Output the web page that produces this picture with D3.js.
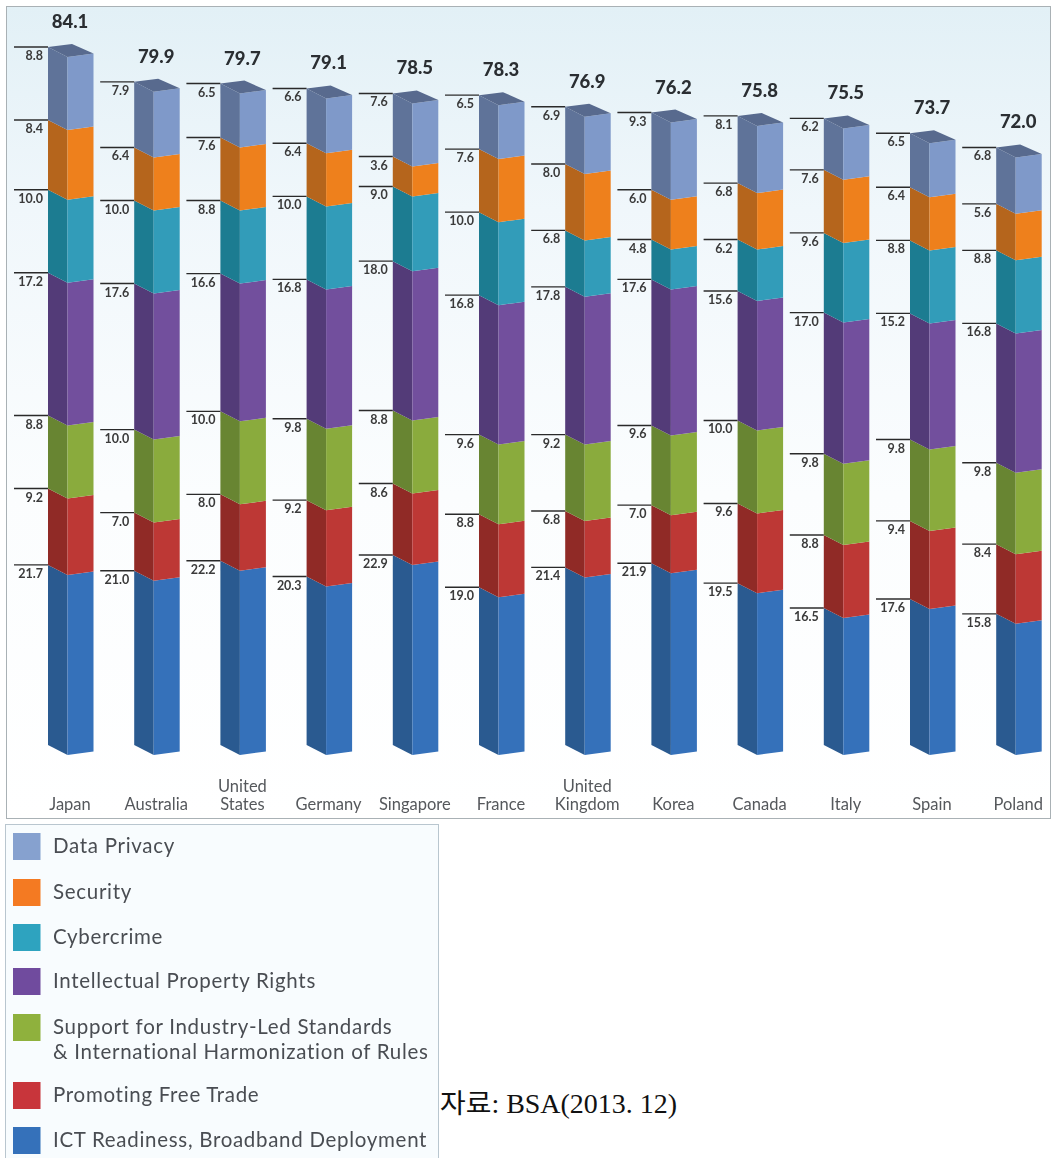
<!DOCTYPE html>
<html><head><meta charset="utf-8">
<script src="https://cdn.jsdelivr.net/npm/d3@7"></script>
<style>html,body{margin:0;padding:0;background:#fff}svg{display:block}</style>
</head><body><div id="c"></div>
<script>
const countries = ["Japan","Australia","United States","Germany","Singapore","France","United Kingdom","Korea","Canada","Italy","Spain","Poland"];
const totals = [84.1,79.9,79.7,79.1,78.5,78.3,76.9,76.2,75.8,75.5,73.7,72.0];
const seriesNames = ["ICT Readiness, Broadband Deployment","Promoting Free Trade","Support for Industry-Led Standards & International Harmonization of Rules","Intellectual Property Rights","Cybercrime","Security","Data Privacy"];
const ict = [21.7,21.0,22.2,20.3,22.9,19.0,21.4,21.9,19.5,16.5,17.6,15.8];
const trade = [9.2,7.0,8.0,9.2,8.6,8.8,6.8,7.0,9.6,8.8,9.4,8.4];
const standards = [8.8,10.0,10.0,9.8,8.8,9.6,9.2,9.6,10.0,9.8,9.8,9.8];
const ip = [17.2,17.6,16.6,16.8,18.0,16.8,17.8,17.6,15.6,17.0,15.2,16.8];
const cyber = [10.0,10.0,8.8,10.0,9.0,10.0,6.8,4.8,6.2,9.6,8.8,8.8];
const security = [8.4,6.4,7.6,6.4,3.6,7.6,8.0,6.0,6.8,7.6,6.4,5.6];
const privacy = [8.8,7.9,6.5,6.6,7.6,6.5,6.9,9.3,8.1,6.2,6.5,6.8];
const seriesValues = [ict,trade,standards,ip,cyber,security,privacy];
const frontColors = ["#3571ba","#bd3735","#8aab3d","#72509d","#309cb9","#ee801f","#7f99c9"];
const sideColors = ["#2a5a90","#902b27","#688530","#533a78","#1f7b91","#b5651b","#5f7399"];
const legendOrder = [6,5,4,3,2,1,0];

const W=1052,H=1158;
const svg=d3.select("#c").append("svg").attr("width",W).attr("height",H);
const defs=svg.append("defs");
const bg=defs.append("linearGradient").attr("id","bg").attr("x1",0).attr("x2",0).attr("y1",0).attr("y2",1);
[[0,"#e2f0f6"],[0.25,"#f0f7fb"],[0.6,"#fbfdfe"],[1,"#ffffff"]].forEach(s=>bg.append("stop").attr("offset",s[0]).attr("stop-color",s[1]));
defs.append("filter").attr("id","soft").append("feGaussianBlur").attr("stdDeviation",0.45);

svg.append("rect").attr("x",6.5).attr("y",6.5).attr("width",1044).attr("height",812).attr("fill","url(#bg)").attr("stroke","#a9b1b5");
svg.append("rect").attr("x",5.5).attr("y",824.5).attr("width",433).attr("height",340).attr("fill","#f8fcfe").attr("stroke","#b9c6cf");

const root=svg.append("g").attr("filter","url(#soft)");
const table=countries.map((c,i)=>{const r={country:c,total:totals[i]};seriesNames.forEach((s,k)=>r[s]=seriesValues[k][i]);return r;});
const stacked=d3.stack().keys(seriesNames)(table);
const x=d3.scaleBand().domain(countries).range([48,48+12*86.2]);
const y=d3.scaleLinear().domain([0,84.1]).range([745,47]);
const sideW=19.5,frontW=26,midOff=10,rightOff=6.5;
const poly=p=>p.map(q=>q.join(",")).join(" ");

stacked.forEach((ser,k)=>{
  const g=root.append("g");
  g.selectAll("polygon.side").data(ser).join("polygon").attr("class","side").attr("fill",sideColors[k])
   .attr("points",d=>{const a=x(d.data.country),t=y(d[1]),b=y(d[0]);
     return poly([[a,t],[a+sideW,t+midOff],[a+sideW,b+midOff],[a,b]]);});
  g.selectAll("polygon.front").data(ser).join("polygon").attr("class","front").attr("fill",frontColors[k])
   .attr("points",d=>{const a=x(d.data.country)+sideW,t=y(d[1]),b=y(d[0]);
     return poly([[a,t+midOff],[a+frontW,t+rightOff],[a+frontW,b+rightOff],[a,b+midOff]]);});
  g.selectAll("line").data(ser).join("line").attr("stroke","#2b2b2b").attr("stroke-width",1.4)
   .attr("x1",d=>x(d.data.country)-34).attr("x2",d=>x(d.data.country))
   .attr("y1",d=>y(d[1])).attr("y2",d=>y(d[1]));
  g.selectAll("text").data(ser).join("text")
   .attr("x",d=>x(d.data.country)-5).attr("y",d=>y(d[1])+13).attr("text-anchor","end")
   .attr("font-family","Lato").attr("font-weight",700).attr("font-size",12.5).attr("fill","#3a3a3a")
   .text((d)=>(d[1]-d[0]).toFixed(1));
});
root.selectAll("polygon.cap").data(table).join("polygon").attr("class","cap").attr("fill","#586a8e")
  .attr("points",d=>{const a=x(d.country),t=y(d.total);
    return poly([[a,t],[a+24,t-3],[a+sideW+frontW,t+rightOff],[a+sideW,t+midOff]]);});
root.selectAll("text.total").data(table).join("text").attr("class","total")
  .attr("x",d=>x(d.country)+22).attr("y",d=>y(d.total)-19).attr("text-anchor","middle")
  .attr("font-family","Lato").attr("font-weight",900).attr("font-size",18.5).attr("fill","#2c2f33")
  .text(d=>d.total.toFixed(1));

const labs=root.selectAll("text.country").data(countries).join("text").attr("class","country")
  .attr("text-anchor","middle").attr("font-family","Lato").attr("font-size",16.5).attr("fill","#55585c");
labs.each(function(c){
  const parts=c.split(" "),el=d3.select(this);
  parts.forEach((p,i)=>el.append("tspan").attr("x",x(c)+22).attr("y",810-(parts.length-1-i)*18.5).text(p));
});

const legendY=[833,879,924,968,1014,1082,1127];
const legendText=[["Data Privacy"],["Security"],["Cybercrime"],["Intellectual Property Rights"],["Support for Industry-Led Standards","& International Harmonization of Rules"],["Promoting Free Trade"],["ICT Readiness, Broadband Deployment"]];
legendOrder.forEach((k,i)=>{
  const legendColors={0:"#3571ba",1:"#c8343a",2:"#8fb13c",3:"#6f4c9e",4:"#2ea3bf",5:"#f47a20",6:"#86a1cf"};
  root.append("rect").attr("x",13).attr("y",legendY[i]).attr("width",27.5).attr("height",27).attr("fill",legendColors[k]);
  legendText[i].forEach((t,j)=>root.append("text").attr("x",53).attr("y",legendY[i]+20+j*25)
    .attr("font-family","Lato").attr("font-size",20.5).attr("letter-spacing",0.7).attr("fill","#4a4d52").text(t));
});
svg.append("text").attr("x",440).attr("y",1113).attr("font-family","'Liberation Serif','Noto Sans CJK KR'")
  .attr("font-size",27).attr("fill","#111").attr("textLength",237).attr("lengthAdjust","spacingAndGlyphs").text("자료: BSA(2013. 12)");
</script></body></html>
